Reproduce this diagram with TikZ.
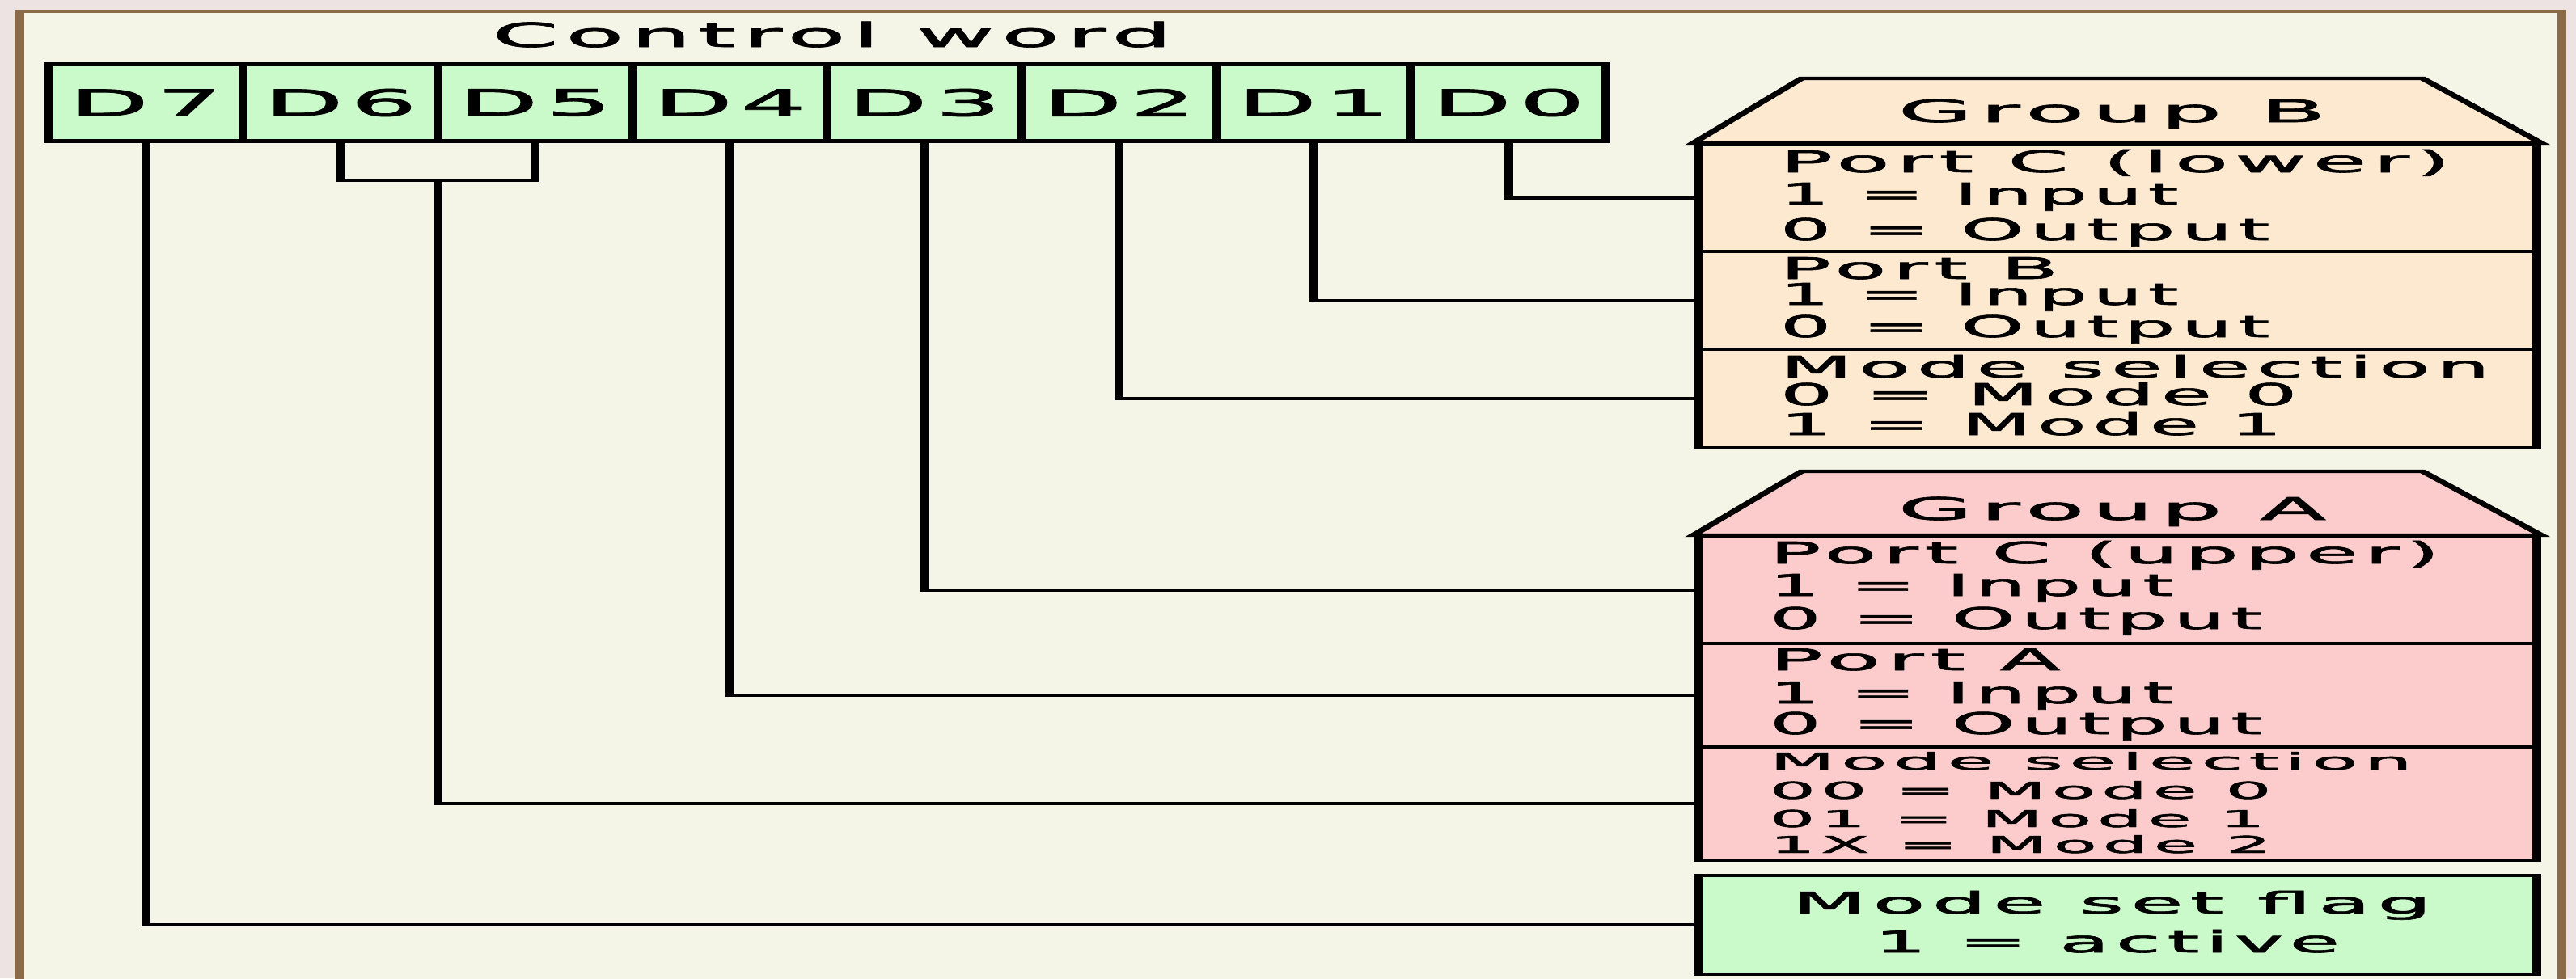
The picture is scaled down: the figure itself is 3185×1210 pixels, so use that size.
\documentclass[tikz,border=0pt]{standalone}
\usepackage{fontspec}
\usepackage{graphicx}
\usetikzlibrary{calc}
\newfontfamily\pixfont[FakeBold=1.5,LetterSpace=8]{DejaVu Sans}

\definecolor{outerbg}{HTML}{EDE3E3}
\definecolor{framebrown}{HTML}{8B6B47}
\definecolor{innerbg}{HTML}{F5F5E7}
\definecolor{cellgreen}{HTML}{CAF9CA}
\definecolor{grpB}{HTML}{FDE9D0}
\definecolor{grpA}{HTML}{FCCBCB}

% \fitto{w}{text}: stretch text horizontally to w canvas units (0.04mm each)
\newsavebox\fitsbox
\newdimen\fitsdim
\newcommand\fitto[2]{\sbox\fitsbox{#2}\fitsdim=\wd\fitsbox
  \pgfmathsetmacro\fitsr{#1*0.113811/\fitsdim}\scalebox{\fitsr}[1]{\usebox\fitsbox}}

\tikzset{
  ln/.style={line width=0.44mm, line join=miter},
  cell/.style={draw, ln, fill=cellgreen, inner sep=0pt,
    minimum width={240.75*0.04mm}, minimum height=9.5mm,
    font={\pixfont\fontsize{12.88pt}{14pt}\selectfont}},
  sec/.style={draw, ln, anchor=north west, inner sep=0pt,
    minimum width={1038*0.04mm}},
  txt/.style={inner sep=0pt, anchor=base west,
    font={\pixfont\fontsize{10.54pt}{12pt}\selectfont}},
  small/.style={txt, font={\pixfont\fontsize{8.2pt}{10pt}\selectfont}},
  ctr/.style={txt, anchor=base},
  ttl/.style={ctr, font={\pixfont\fontsize{10.93pt}{12pt}\selectfont}},
  head/.style={ctr, font={\pixfont\fontsize{11.71pt}{13pt}\selectfont}},
}

\begin{document}
\begin{tikzpicture}[x=0.1mm,y=-0.1mm]
\useasboundingbox (0,0) rectangle (3185,1210);
\fill[outerbg] (0,0) rectangle (3185,1210);

\begin{scope}[x=0.04mm,y=-0.1mm,transform canvas={xscale=2.5}]
  % panel
  \filldraw[fill=innerbg,draw=framebrown,line width=0.46mm] (24,14) rectangle (3168,1300);

  % control word bits
  \node[head] (cw) at (1029,58) {\fitto{840}{Control word}};
  \foreach \i in {7,...,0}
    \node[cell] (d\i) at ({180.375+240.75*(7-\i)},127) {\scalebox{1.12}[1]{D\i}};

  % group B
  \node[sec, fill=grpB, minimum height=13.2mm] (b1) at (2094,177) {};
  \node[sec, fill=grpB, minimum height=12.1mm] (b2) at (2094,309) {};
  \node[sec, fill=grpB, minimum height=12.2mm] (b3) at (2094,430) {};
  \filldraw[ln, fill=grpB] (b1.north west) -- (2228,97) -- (2996,97) -- (b1.north east) -- cycle;
  \node[ttl] (gb) at (2612,151) {\fitto{529}{Group B}};
  \node[txt] (b1a) at (2200,213) {\fitto{828}{Port C (lower)}};
  \node[txt] (b1b) at (2200,253) {\fitto{492}{1 = Input}};
  \node[txt] (b1c) at (2200,297) {\fitto{605}{0 = Output}};
  \node[txt] (b2a) at (2200,345) {\fitto{344}{Port B}};
  \node[txt] (b2b) at (2200,377) {\fitto{492}{1 = Input}};
  \node[txt] (b2c) at (2200,417) {\fitto{605}{0 = Output}};
  \node[txt] (b3a) at (2200,467) {\fitto{877}{Mode selection}};
  \node[txt] (b3b) at (2200,501) {\fitto{639}{0 = Mode 0}};
  \node[txt] (b3c) at (2200,538) {\fitto{620}{1 = Mode 1}};

  % group A
  \node[sec, fill=grpA, minimum height=13.2mm] (a1) at (2094,662) {};
  \node[sec, fill=grpA, minimum height=12.8mm] (a2) at (2094,794) {};
  \node[sec, fill=grpA, minimum height=14.0mm] (a3) at (2094,922) {};
  \filldraw[ln, fill=grpA] (a1.north west) -- (2228,583) -- (2996,583) -- (a1.north east) -- cycle;
  \node[ttl] (ga) at (2612,643) {\fitto{529}{Group A}};
  \node[txt] (a1a) at (2187,697) {\fitto{828}{Port C (upper)}};
  \node[txt] (a1b) at (2187,737) {\fitto{499}{1 = Input}};
  \node[txt] (a1c) at (2187,778) {\fitto{609}{0 = Output}};
  \node[txt] (a2a) at (2187,829) {\fitto{359}{Port A}};
  \node[txt] (a2b) at (2187,870) {\fitto{499}{1 = Input}};
  \node[txt] (a2c) at (2187,908) {\fitto{609}{0 = Output}};
  \node[small] (a3a) at (2187,952) {\fitto{794}{Mode selection}};
  \node[small] (a3b) at (2187,988) {\fitto{620}{00 = Mode 0}};
  \node[small] (a3c) at (2187,1023) {\fitto{612}{01 = Mode 1}};
  \node[small] (a3d) at (2187,1055) {\fitto{620}{1X = Mode 2}};

  % mode set flag
  \node[sec, fill=cellgreen, minimum height=12.2mm] (flag) at (2094,1081) {};
  \node[ctr] (fa) at (2612,1130) {\fitto{790}{Mode set flag}};
  \node[ctr] (fb) at (2606,1178) {\fitto{575}{1 = active}};

  % connectors
  \draw[ln] (d6.south) -- ++(0,46) -| (d5.south);
  \coordinate (brk) at ($(d6.south)!0.5!(d5.south)+(0,46)$);
  \draw[ln] (d7.south) |- (flag.west);
  \draw[ln] (brk) |- (a3.west);
  \draw[ln] (d4.south) |- (a2.west);
  \draw[ln] (d3.south) |- (a1.west);
  \draw[ln] (d2.south) |- (b3.west);
  \draw[ln] (d1.south) |- (b2.west);
  \draw[ln] (d0.south) |- (b1.west);
\end{scope}
\end{tikzpicture}
\end{document}
